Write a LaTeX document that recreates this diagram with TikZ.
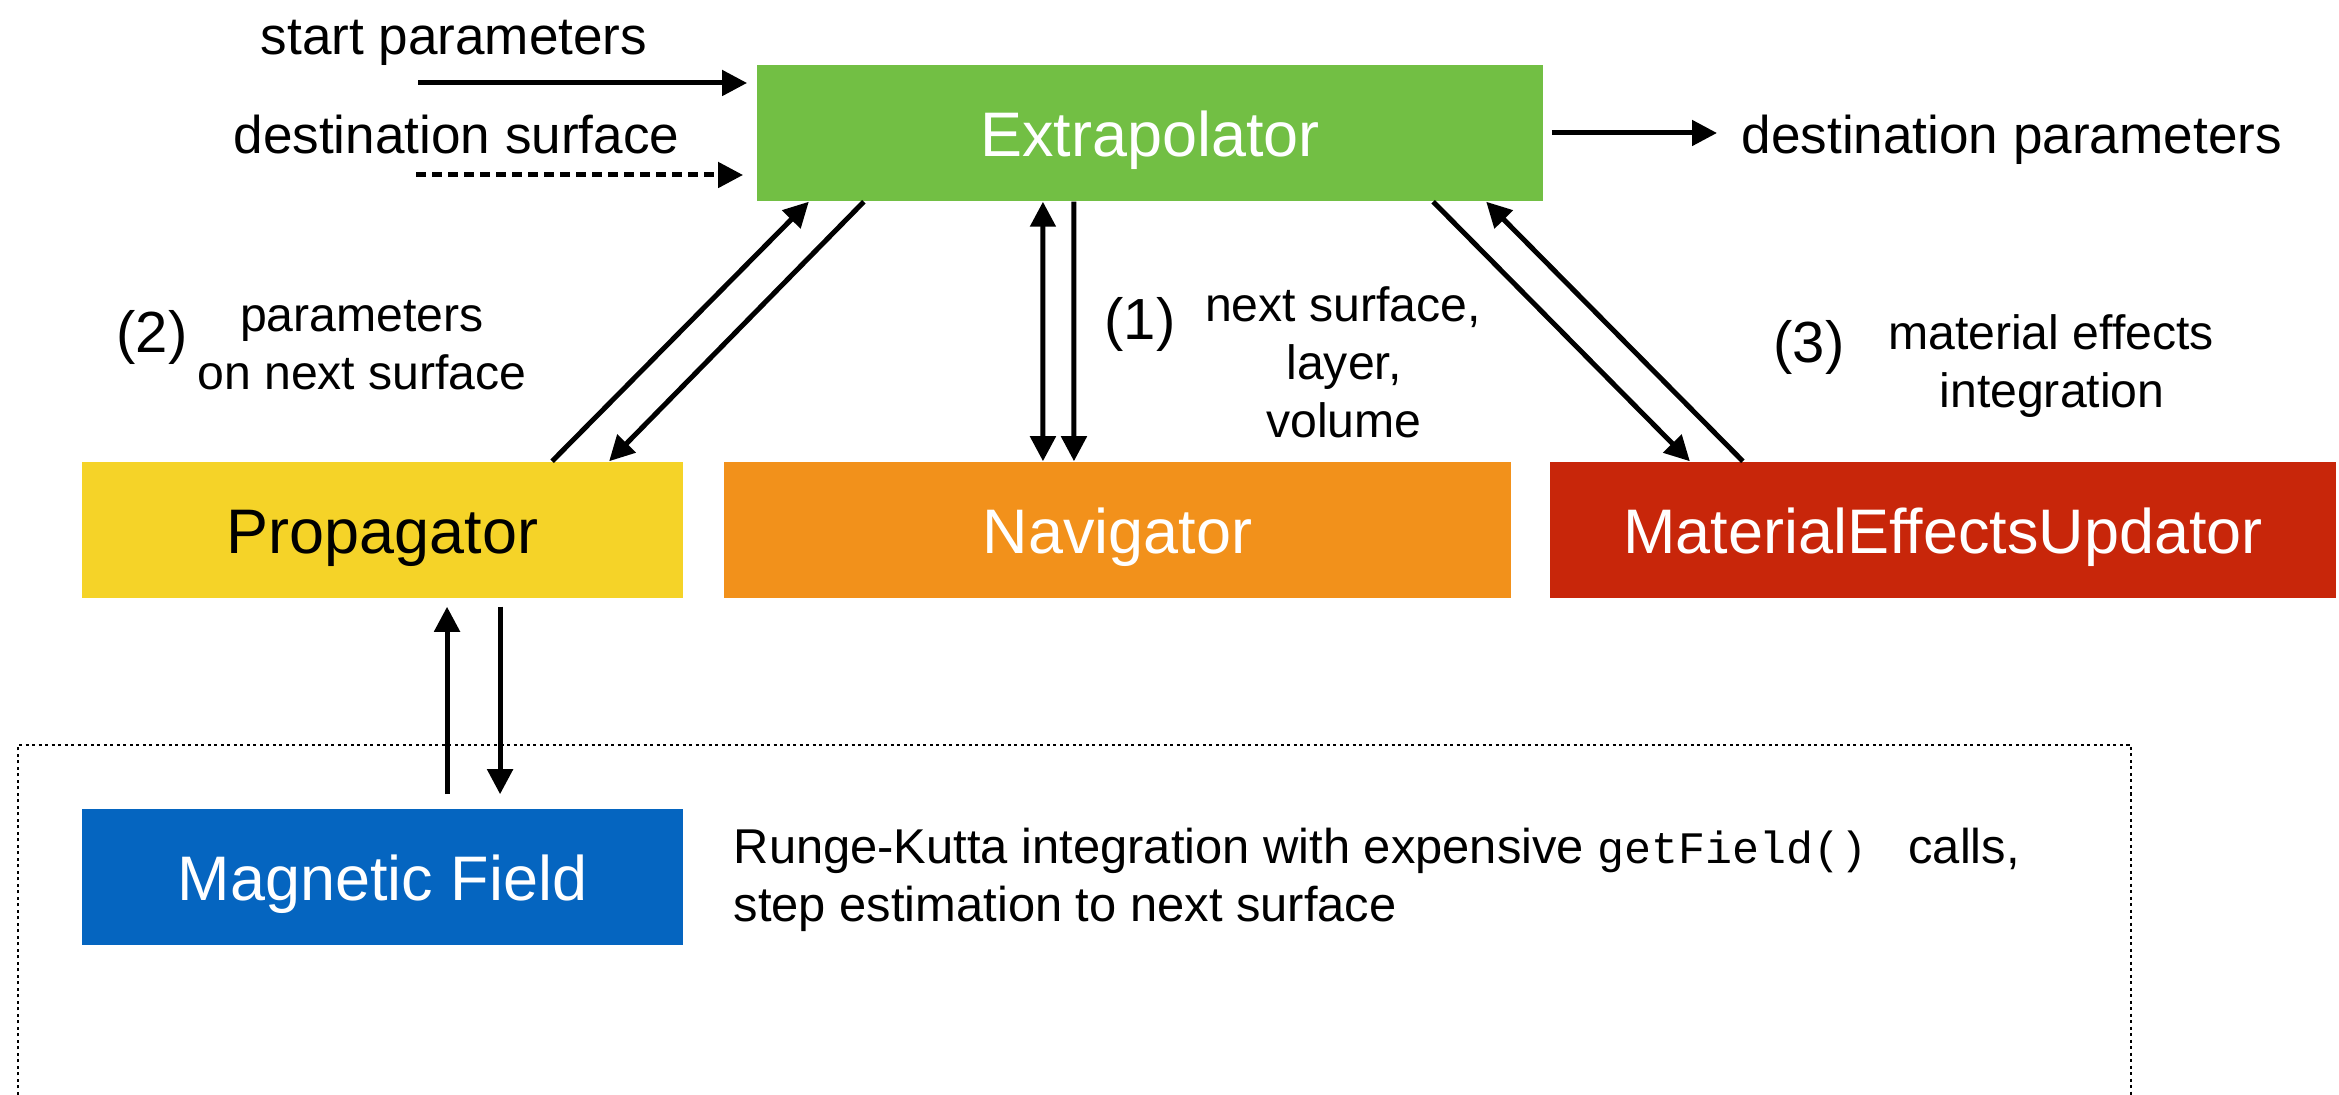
\documentclass[tikz,border=0pt]{standalone}
\usepackage{fontspec}
\setmainfont{Liberation Sans}
\newfontfamily\codefont{Liberation Mono}
\usetikzlibrary{arrows.meta,calc}
\definecolor{cgreen}{RGB}{114,191,68}
\definecolor{cyellow}{RGB}{245,211,40}
\definecolor{corange}{RGB}{242,145,27}
\definecolor{cred}{RGB}{200,38,10}
\definecolor{cblue}{RGB}{5,101,192}
\begin{document}
\begin{tikzpicture}[x=0.01cm,y=-0.01cm,
  box/.style={rectangle, inner sep=0pt, minimum height=1.36cm, text height=0.5cm, text depth=0.04cm, font=\fontsize{17.9}{21}\selectfont},
  widebox/.style={box, minimum width=7.86cm},
  narrowbox/.style={box, minimum width=6.01cm},
  arr/.style={line width=0.05cm, -{Triangle[length=0.25cm,width=0.25cm]}},
  dblarr/.style={line width=0.05cm, {Triangle[length=0.25cm,width=0.25cm]}-{Triangle[length=0.25cm,width=0.25cm]}},
  dotbox/.style={line width=0.025cm, dash pattern=on 0.03cm off 0.035cm},
  lbl/.style={inner sep=0pt, anchor=base, font=\fontsize{15.1}{18}\selectfont},
  note/.style={inner sep=0pt, anchor=base, font=\fontsize{13.7}{16}\selectfont},
  num/.style={inner sep=0pt, anchor=base, font=\fontsize{16.5}{19}\selectfont},
  desc/.style={inner sep=0pt, anchor=base west, font=\fontsize{13.9}{16.5}\selectfont},
]
\useasboundingbox (0,0) rectangle (2339,1095);

% dotted frame
\draw[dotbox] (18,1095) -- (18,745) -- (2131,745) -- (2131,1095);

% boxes
\node[widebox, fill=cgreen, text=white] (ext) at (1150,133) {Extrapolator};
\node[narrowbox, fill=cyellow, text=black] (prop) at (382.5,530) {Propagator};
\node[widebox, fill=corange, text=white] (nav) at (1117.5,530) {Navigator};
\node[widebox, fill=cred, text=white] (meu) at (1943,530) {MaterialEffectsUpdator};
\node[narrowbox, fill=cblue, text=white] (mf) at (382.5,877) {Magnetic Field};

% inputs / output
\coordinate (sp) at (418,83);
\coordinate (ds) at (416,175);
\coordinate (dp) at (1717,133);
\draw[arr, shorten >=0.09cm] (sp) -- (ext.west |- sp);
\draw[arr, dash pattern=on 0.1cm off 0.06cm, shorten >=0.13cm] (ds) -- (ext.west |- ds);
\draw[arr] ([xshift=0.08cm]ext.east) -- (dp);

\node[lbl] (tsp) at (454,55) {start parameters};
\node[lbl] (tds) at (456.5,154) {destination surface};
\node[lbl, anchor=base west] (tdp) at (1741,154) {destination parameters};

% Extrapolator <-> Propagator
\draw[arr] ([xshift=1.695cm]prop.north) -- ([xshift=-3.41cm]ext.south);
\draw[arr] ([xshift=-2.86cm]ext.south) -- ([xshift=2.265cm]prop.north);
% Extrapolator <-> Navigator
\draw[dblarr] ([xshift=-1.07cm]ext.south) -- ([xshift=-0.745cm]nav.north);
\draw[arr] ([xshift=-0.76cm]ext.south) -- ([xshift=-0.435cm]nav.north);
% Extrapolator <-> MaterialEffectsUpdator
\draw[arr] ([xshift=2.83cm]ext.south) -- ([xshift=-2.53cm]meu.north);
\draw[arr] ([xshift=-2.00cm]meu.north) -- ([xshift=3.36cm]ext.south);
% Propagator <-> Magnetic Field
\draw[arr] ([xshift=0.645cm,yshift=0.14cm]mf.north) -- ([xshift=0.645cm,yshift=-0.08cm]prop.south);
\draw[arr] ([xshift=1.175cm,yshift=-0.08cm]prop.south) -- ([xshift=1.175cm,yshift=0.14cm]mf.north);

% annotations
\node[num] (n2) at (152,353) {(2)};
\node[note] (t2a) at (362,332) {parameters};
\node[note] (t2b) at (362,390) {on next surface};
\node[num] (n1) at (1140,340) {(1)};
\node[note] (t1a) at (1343,322) {next surface,};
\node[note] (t1b) at (1344,380) {layer,};
\node[note] (t1c) at (1344,438) {volume};
\node[num] (n3) at (1809,363) {(3)};
\node[note] (t3a) at (2051,350) {material effects};
\node[note] (t3b) at (2052,408) {integration};

\node[desc] (rk1) at (733,864) {Runge-Kutta integration with expensive {\codefont\fontsize{12.8}{15}\selectfont getField()~}\ calls,};
\node[desc] (rk2) at (733,922) {step estimation to next surface};
\end{tikzpicture}
\end{document}
